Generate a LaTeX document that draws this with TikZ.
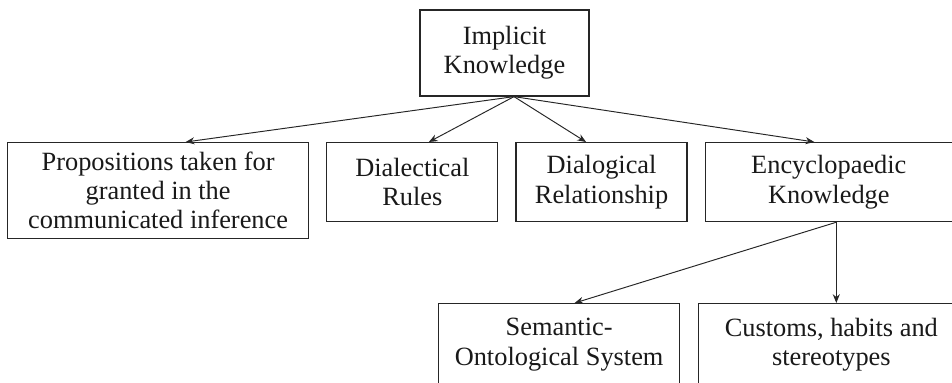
\documentclass[tikz,border=0pt]{standalone}
\usepackage{fontspec}
\setmainfont{Liberation Serif}
\usetikzlibrary{positioning,arrows.meta}
\tikzstyle{box} = [rectangle, draw=black!85, line width=0.7pt, align=center, inner sep=2pt, minimum height=1.58cm, text=black!90, font=\fontsize{15}{16.6}\selectfont]
\tikzstyle{arrow} = [draw=black!85, line width=0.55pt, -{Stealth[length=5pt,width=4pt]}]

\begin{document}
\begin{tikzpicture}[node distance = 0.34cm]

	\clip (0,0) rectangle (19.04,-7.64);

	\node (implicit) [box, minimum width=3.38cm, minimum height=1.72cm] at (10.09,-1.06) {Implicit\\Knowledge};
		\node (prop) [box, minimum width=6.02cm, minimum height=1.92cm, anchor=north west] at (0.14,-2.84) {Propositions taken for\\granted in the\\communicated inference};
		\node (dial) [box, minimum width=3.42cm, right=of prop.north east, anchor=north west] {Dialectical\\Rules};
		\node (dialog) [box, minimum width=3.42cm, right=of dial.north east, anchor=north west] {Dialogical\\Relationship};
		\node (ency) [box, minimum width=4.94cm, right=of dialog.north east, anchor=north west] {Encyclopaedic\\Knowledge};
			\node (sem) [box, minimum width=4.82cm, minimum height=1.64cm, anchor=north west] at (8.76,-6.06) {Semantic-\\Ontological System};
			\node (cust) [box, minimum width=5.3cm, minimum height=1.64cm, right=0.36cm of sem.north east, anchor=north west] {Customs, habits and\\stereotypes};

	\draw [arrow] ([xshift=0.19cm]implicit.south) -- ([xshift=0.55cm]prop.north);
	\draw [arrow] ([xshift=0.19cm]implicit.south) -- ([xshift=0.33cm]dial.north);
	\draw [arrow] ([xshift=0.19cm]implicit.south) -- ([xshift=-0.31cm]dialog.north);
	\draw [arrow] ([xshift=0.19cm]implicit.south) -- ([xshift=-0.29cm]ency.north);
	\draw [arrow] ([xshift=0.15cm]ency.south) -- ([xshift=0.31cm]sem.north);
	\draw [arrow] ([xshift=0.15cm]ency.south) -- ([xshift=0.15cm]ency.south |- cust.north);

\end{tikzpicture}
\end{document}
